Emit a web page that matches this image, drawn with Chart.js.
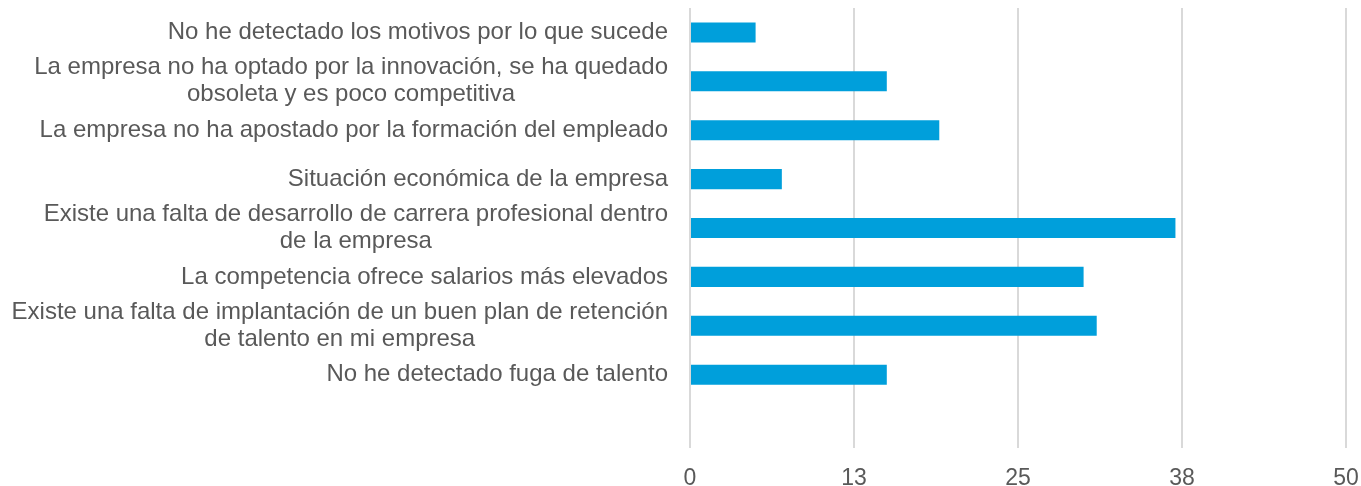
<!DOCTYPE html>
<html>
<head>
<meta charset="utf-8">
<script src="https://cdn.jsdelivr.net/npm/chart.js@4/dist/chart.umd.min.js"></script>
<style>
    html, body { margin: 0; padding: 0; background: #fff; }
    #wrap { width: 1361px; height: 486px; position: relative; }
</style>
</head>
<body>
<div id="wrap"><canvas id="chart"></canvas></div>
<script>
    // Categories (top to bottom); last slot is empty in the original
    const categories = [
        ['No he detectado los motivos por lo que sucede'],
        ['La empresa no ha optado por la innovación, se ha quedado', 'obsoleta y es poco competitiva'],
        ['La empresa no ha apostado por la formación del empleado'],
        ['Situación económica de la empresa'],
        ['Existe una falta de desarrollo de carrera profesional dentro', 'de la empresa'],
        ['La competencia ofrece salarios más elevados'],
        ['Existe una falta de implantación de un buen plan de retención', 'de talento en mi empresa'],
        ['No he detectado fuga de talento'],
        ['']
    ];
    const values = [5, 15, 19, 7, 37, 30, 31, 15, null];
    const tickLabels = ['0', '13', '25', '38', '50'];

    const textColor = '#595959';
    const fontFamily = '"Liberation Sans", Arial, sans-serif';

    // Draws category labels: block right-aligned to the axis, lines centred inside it
    const categoryLabels = {
        id: 'categoryLabels',
        afterDraw(chart) {
            const ctx = chart.ctx;
            const yScale = chart.scales.y;
            const rightEdge = chart.chartArea.left - 22;
            const lineH = 27;
            ctx.save();
            ctx.font = '24px ' + fontFamily;
            ctx.fillStyle = textColor;
            ctx.textAlign = 'center';
            ctx.textBaseline = 'middle';
            categories.forEach((lines, i) => {
                const y = yScale.getPixelForValue(i);
                const blockW = Math.max(...lines.map(l => ctx.measureText(l).width));
                const cx = rightEdge - blockW / 2;
                lines.forEach((line, j) => {
                    ctx.fillText(line, cx, y + (j - (lines.length - 1) / 2) * lineH);
                });
            });
            ctx.restore();
        }
    };

    new Chart(document.getElementById('chart').getContext('2d'), {
        type: 'bar',
        data: {
            labels: categories,
            datasets: [{
                data: values,
                backgroundColor: '#009fdb',
                borderWidth: 0,
                categoryPercentage: 1,
                barPercentage: 0.41
            }]
        },
        options: {
            indexAxis: 'y',
            responsive: true,
            maintainAspectRatio: false,
            animation: false,
            layout: { padding: { top: 8, right: 15, left: 0, bottom: 0 } },
            plugins: {
                legend: { display: false },
                tooltip: { enabled: false }
            },
            scales: {
                x: {
                    min: 0,
                    max: 50,
                    afterFit: (scale) => {
                        scale.height = 38;
                        scale.paddingRight = 0;
                        scale.paddingLeft = 0;
                    },
                    afterBuildTicks: (scale) => {
                        scale.ticks = tickLabels.map((t, i) => ({ value: i * 12.5 }));
                    },
                    ticks: {
                        callback: (val, i) => tickLabels[i],
                        color: textColor,
                        font: { family: fontFamily, size: 23 },
                        padding: 17,
                        maxRotation: 0
                    },
                    grid: { color: '#d9d9d9', lineWidth: 2, drawTicks: false },
                    border: { display: false }
                },
                y: {
                    afterFit: (scale) => { scale.width = 690; },
                    ticks: { display: false },
                    grid: { display: false },
                    border: { display: false }
                }
            }
        },
        plugins: [categoryLabels]
    });
</script>
</body>
</html>
